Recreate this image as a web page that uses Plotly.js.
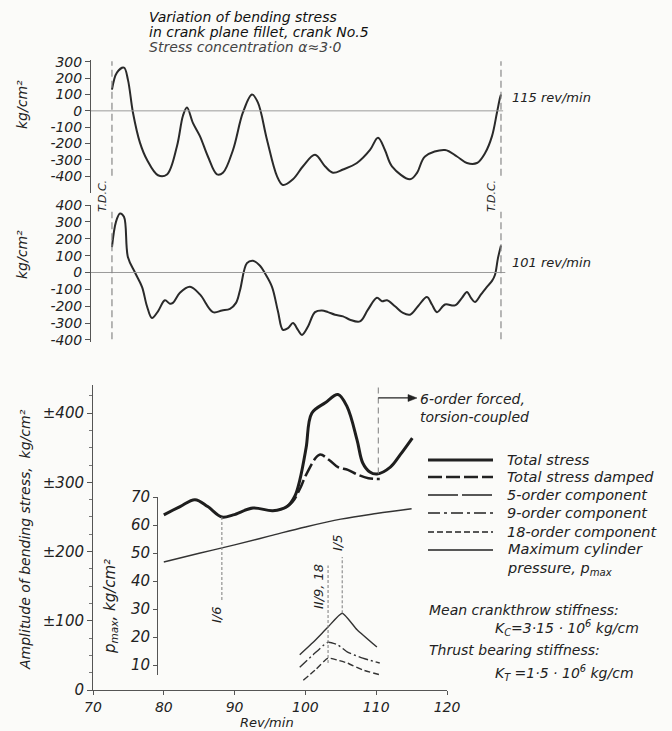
<!DOCTYPE html>
<html><head><meta charset="utf-8">
<script src="https://cdn.plot.ly/plotly-3.0.1.min.js"></script>
<style>html,body{margin:0;padding:0;background:#fbfbf9}</style>
</head><body><div id="chart" style="width:672px;height:731px"></div>
<script>
// ---- Top record: 115 rev/min, crank angle from T.D.C. (deg) vs bending stress (kg/cm²)
const angle115 = [0, 4.6, 11.1, 14.8, 19.4, 25.9, 32.4, 42.6, 50.9, 60.2, 65.7, 69.4, 75.0, 81.4, 88.8, 97.2, 102.7, 112.0, 121.2, 129.6, 135.1, 143.4, 152.7, 158.2, 167.5, 176.8, 187.9, 197.1, 204.5, 213.8, 226.7, 238.8, 246.2, 252.6, 259.1, 275.8, 282.3, 289.7, 308.2, 319.3, 328.5, 337.8, 345.2, 351.7, 356.3, 359.1, 360];
const stress115 = [130, 235, 265, 190, -10, -195, -300, -395, -390, -215, -30, 20, -75, -155, -280, -390, -380, -240, -10, 100, 50, -175, -400, -455, -420, -340, -270, -340, -380, -360, -320, -240, -165, -240, -340, -420, -380, -280, -240, -280, -320, -320, -260, -155, -10, 80, 100];
// ---- Middle record: 101 rev/min
const angle101 = [0, 3.7, 7.4, 11.1, 14.8, 21.3, 27.8, 32.4, 37.0, 42.6, 49.0, 53.7, 56.4, 62.9, 72.2, 81.4, 93.5, 101.8, 109.2, 114.8, 118.5, 124.9, 130.5, 137.0, 141.6, 148.1, 153.6, 158.2, 162.9, 167.5, 172.1, 175.8, 181.4, 187.9, 194.3, 199.9, 206.4, 213.8, 220.2, 229.5, 236.9, 245.2, 249.9, 254.5, 261.9, 269.3, 275.8, 283.2, 291.5, 296.1, 300.8, 308.2, 317.4, 323.9, 328.5, 332.2, 335.9, 341.5, 347.0, 351.7, 354.4, 357.2, 360];
const stress101 = [150, 300, 350, 330, 90, 0, -85, -200, -270, -230, -165, -185, -180, -120, -85, -130, -235, -225, -215, -180, -105, 55, 70, 40, -5, -85, -230, -340, -330, -300, -340, -370, -320, -235, -225, -235, -250, -260, -280, -290, -220, -150, -170, -165, -200, -240, -250, -200, -145, -190, -235, -190, -195, -150, -115, -150, -175, -130, -85, -50, -15, 85, 160];
const ticks115 = [300, 200, 100, 0, -100, -200, -300, -400];
const ticks101 = [400, 300, 200, 100, 0, -100, -200, -300, -400];
const tdcAngles = [0, 360];

// ---- Bottom: amplitude of bending stress vs rev/min
const rpmTotal = [80, 82.3, 84.4, 86.2, 88.2, 89.8, 92.6, 95.4, 97.4, 98.5, 99.2, 100.1, 100.9, 102.8, 104.6, 105.9, 107.3, 108.1, 109.1, 110.1, 112, 113.4, 115.1];
const ampTotal = [253, 265, 275, 265, 250, 253, 263, 259, 265, 280, 303, 350, 400, 415, 427, 409, 361, 328, 315, 312, 322, 340, 364];
const rpmDamped = [97.4, 98.2, 99.2, 100.2, 102.0, 103.4, 104.6, 106.0, 107.4, 108.9, 110.5];
const ampDamped = [265, 272, 290, 313, 340, 332, 322, 318, 311, 306, 305];
const rpm5 = [99.2, 101.1, 103.2, 105.2, 107.3, 110.1];
const amp5 = [51, 69, 91, 111, 87, 62];
const rpm9 = [99.2, 101.1, 103.2, 104.6, 105.9, 108.1, 110.5];
const amp9 = [33, 51, 69, 65, 55, 46, 39];
const rpm18 = [99.7, 101.4, 103.2, 104.6, 105.9, 108.1, 110.5];
const amp18 = [14, 29, 46, 43, 39, 29, 22];
const rpmP = [80, 85, 90, 95, 100, 105, 110, 115];
const pmax = [46.8, 49.9, 52.9, 56.1, 59.3, 62.1, 64.1, 65.8];
const rpmTicks = [70, 80, 90, 100, 110, 120];
const ampTicks = [0, 100, 200, 300, 400];
const ampTickText = ['0', '±100', '±200', '±300', '±400'];
const pTicks = [10, 20, 30, 40, 50, 60, 70];
// resonance markers: rpm, amplitude span, label
const resRpm = [88.2, 103.2, 105.2, 110.3];
const resLow = [130, 39, 111, 313];
const resHigh = [250, 180, 192, 440];
const resLabels = ['I/6', 'II/9, 18', 'I/5', ''];
const legendNames = ['Total stress', 'Total stress damped', '5-order component', '9-order component', '18-order component', 'Maximum cylinder<br>pressure, <i>p</i><sub>max</sub>'];

// ---- helpers
const W = 672, H = 731;
const px = x => x / W, py = y => 1 - y / H;
const FAM = 'DejaVu Sans, sans-serif';
const fnt = (size, color) => ({family: FAM, size: size, color: color || '#222', style: 'italic'});
const INK = '#2a2a2a';
const ann = (x, y, text, o) => Object.assign({xref: 'paper', yref: 'paper', x: px(x), y: py(y), text: text, showarrow: false, font: fnt(13), xanchor: 'left', yanchor: 'middle'}, o || {});

const traces = [
  {x: angle115, y: stress115, xaxis: 'x', yaxis: 'y', mode: 'lines', line: {color: INK, width: 2, shape: 'spline', smoothing: 1}},
  {x: angle101, y: stress101, xaxis: 'x2', yaxis: 'y2', mode: 'lines', line: {color: INK, width: 2, shape: 'spline', smoothing: 1}},
  {x: rpmTotal, y: ampTotal, xaxis: 'x3', yaxis: 'y3', mode: 'lines', line: {color: '#1e1e1e', width: 3, shape: 'spline', smoothing: 1}},
  {x: rpmDamped, y: ampDamped, xaxis: 'x3', yaxis: 'y3', mode: 'lines', line: {color: '#1e1e1e', width: 2.5, dash: '14px,4px', shape: 'spline', smoothing: 1}},
  {x: rpm5, y: amp5, xaxis: 'x3', yaxis: 'y3', mode: 'lines', line: {color: '#333', width: 1.4, shape: 'spline', smoothing: 0.5}},
  {x: rpm9, y: amp9, xaxis: 'x3', yaxis: 'y3', mode: 'lines', line: {color: '#333', width: 1.4, dash: '10px,3px,2px,3px', shape: 'spline', smoothing: 0.5}},
  {x: rpm18, y: amp18, xaxis: 'x3', yaxis: 'y3', mode: 'lines', line: {color: '#333', width: 1.4, dash: '6px,3px', shape: 'spline', smoothing: 0.5}},
  {x: rpmP, y: pmax, xaxis: 'x3', yaxis: 'y4', mode: 'lines', line: {color: '#333', width: 1.4, shape: 'spline', smoothing: 1}}
];

const yStyle = {showline: true, linecolor: '#555', linewidth: 1, ticks: 'outside', ticklen: 5, tickcolor: '#555',
  showgrid: false, zeroline: false, tickfont: fnt(14), fixedrange: true};

const shapes = [];
// zero lines of the records
shapes.push({type: 'line', xref: 'x', yref: 'y', x0: -19.4, x1: 362, y0: 0, y1: 0, line: {color: '#9a9a9a', width: 1}});
shapes.push({type: 'line', xref: 'x2', yref: 'y2', x0: -19.4, x1: 364, y0: 0, y1: 0, line: {color: '#9a9a9a', width: 1}});
// T.D.C. dashed verticals
tdcAngles.forEach(a => {
  shapes.push({type: 'line', xref: 'x', yref: 'y domain', x0: a, x1: a, y0: 0.13, y1: 0.99, line: {color: '#888', width: 1.2, dash: '7px,4px'}});
  shapes.push({type: 'line', xref: 'x2', yref: 'y2 domain', x0: a, x1: a, y0: 0.02, y1: 0.95, line: {color: '#888', width: 1.2, dash: '7px,4px'}});
});
// resonance markers in bottom chart
resRpm.forEach((r, i) => {
  shapes.push({type: 'line', xref: 'x3', yref: 'y3', x0: r, x1: r, y0: resLow[i], y1: resHigh[i],
    line: {color: '#888', width: 1.1, dash: i === 3 ? '6px,4px' : '3px,2px'}});
});
// 6-order arrow (shaft + head) and legend samples
shapes.push({type: 'line', xref: 'x3', yref: 'y3', x0: 110.3, x1: 115.3, y0: 422, y1: 422, line: {color: '#222', width: 1.2}});
shapes.push({type: 'path', xref: 'paper', yref: 'paper',
  path: 'M' + px(417) + ',' + py(398) + ' L' + px(408) + ',' + py(394.5) + ' L' + px(408) + ',' + py(401.5) + ' Z',
  fillcolor: '#222', line: {color: '#222', width: 0.5}});
const legY = [460, 477, 495, 513, 532, 550];
const legDash = ['solid', '14px,4px', '30px,4px', '12px,4px,3px,4px', '6px,3px', 'solid'];
const legW = [3, 2.5, 1.3, 1.3, 1.3, 1.3];
legY.forEach((y, i) => {
  shapes.push({type: 'line', xref: 'paper', yref: 'paper', x0: px(428), x1: px(493), y0: py(y), y1: py(y),
    line: {color: '#222', width: legW[i], dash: legDash[i]}});
});

const annotations = [
  ann(147, 17, 'Variation of bending stress', {font: fnt(14, '#111')}),
  ann(147, 32, 'in crank plane fillet, crank No.5', {font: fnt(14, '#111')}),
  ann(147, 47, 'Stress concentration α≈3·0', {font: fnt(14, '#444')}),
  ann(22, 105, 'kg/cm²', {textangle: -90, xanchor: 'center', font: fnt(14)}),
  ann(22, 255, 'kg/cm²', {textangle: -90, xanchor: 'center', font: fnt(14)}),
  ann(510, 97, '115 rev/min', {font: fnt(13)}),
  ann(510, 262, '101 rev/min', {font: fnt(13)}),
  ann(103, 196, 'T.D.C.', {textangle: -90, xanchor: 'center', font: fnt(11)}),
  ann(492, 196, 'T.D.C.', {textangle: -90, xanchor: 'center', font: fnt(11)}),
  ann(25, 540, 'Amplitude of bending stress,  kg/cm²', {textangle: -90, xanchor: 'center', font: fnt(14)}),
  ann(267, 722, 'Rev/min', {xanchor: 'center', font: fnt(13)}),
  ann(110, 607, '<i>p</i><sub>max</sub>, kg/cm²', {textangle: -90, xanchor: 'center', font: fnt(15)}),
  ann(216, 615, resLabels[0], {textangle: -90, xanchor: 'center', font: fnt(13)}),
  ann(318, 587, resLabels[1], {textangle: -90, xanchor: 'center', font: fnt(13)}),
  ann(337, 543, resLabels[2], {textangle: -90, xanchor: 'center', font: fnt(13)}),
  ann(418, 408, '6-order forced,<br>torsion-coupled', {align: 'left', font: fnt(14)}),
  ann(427, 610, 'Mean crankthrow stiffness:', {font: fnt(14)}),
  ann(493, 628, 'K<sub>C</sub>=3·15 · 10<sup>6</sup> kg/cm', {font: fnt(14)}),
  ann(427, 650, 'Thrust bearing stiffness:', {font: fnt(14)}),
  ann(493, 673, 'K<sub>T</sub> =1·5 · 10<sup>6</sup> kg/cm', {font: fnt(14)})
];
legendNames.forEach((n, i) => {
  annotations.push(ann(505, i === 5 ? legY[i] + 9 : legY[i], n, {align: 'left', font: fnt(14.5)}));
});

const layout = {
  width: W, height: H, margin: {l: 0, r: 0, t: 0, b: 0, pad: 0},
  paper_bgcolor: '#fbfbf9', plot_bgcolor: 'rgba(0,0,0,0)', showlegend: false,
  xaxis: {domain: [px(91), px(520)], range: [-19.4, 377.6], visible: false, anchor: 'y', fixedrange: true},
  yaxis: Object.assign({}, yStyle, {domain: [py(193), py(60)], range: [-504, 312], anchor: 'x',
    tickvals: ticks115, ticktext: ticks115.map(String)}),
  xaxis2: {domain: [px(91), px(520)], range: [-19.4, 377.6], visible: false, anchor: 'y2', fixedrange: true},
  yaxis2: Object.assign({}, yStyle, {domain: [py(342), py(205)], range: [-412, 400], anchor: 'x2',
    tickvals: ticks101, ticktext: ticks101.map(String)}),
  xaxis3: Object.assign({}, yStyle, {domain: [px(93), px(447)], range: [70, 120], anchor: 'y3', ticklen: 4,
    tickvals: rpmTicks, ticktext: rpmTicks.map(String), tickfont: fnt(14)}),
  yaxis3: Object.assign({}, yStyle, {domain: [py(690), py(385)], range: [0, 440.7], anchor: 'x3', tickfont: fnt(15),
    tickvals: ampTicks, ticktext: ampTickText, minor: {dtick: 25, ticks: 'outside', ticklen: 3, tickcolor: '#777'}}),
  yaxis4: Object.assign({}, yStyle, {domain: [py(675), py(497)], range: [6.43, 70], anchor: 'free', position: px(157),
    ticklen: 4, tickvals: pTicks, ticktext: pTicks.map(String), tickfont: fnt(15)}),
  shapes: shapes, annotations: annotations
};

Plotly.newPlot('chart', traces, layout, {staticPlot: true, displayModeBar: false});
</script></body></html>
